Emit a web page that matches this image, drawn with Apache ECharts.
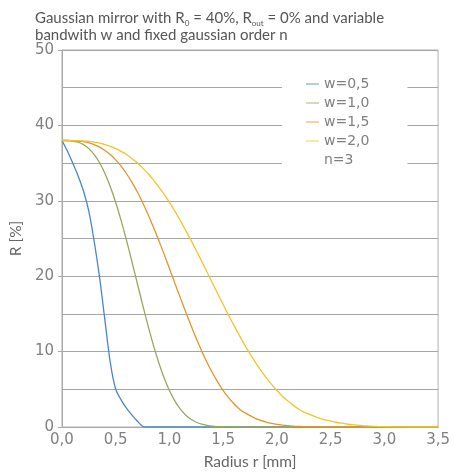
<!DOCTYPE html>
<html><head><meta charset="utf-8">
<script src="https://cdn.jsdelivr.net/npm/echarts@6/dist/echarts.min.js"></script>
<style>html,body{margin:0;padding:0;background:#fff}#c{width:453px;height:475px}</style>
</head><body><div id="c"></div>
<script>
const radius = [0,0.05,0.1,0.15,0.2,0.25,0.3,0.35,0.4,0.45,0.5,0.55,0.6,0.65,0.7,0.75,0.8,0.85,0.9,0.95,
1,1.05,1.1,1.15,1.2,1.25,1.3,1.35,1.4,1.45,1.5,1.55,1.6,1.65,1.7,1.75,1.8,1.85,1.9,1.95,
2,2.05,2.1,2.15,2.2,2.25,2.3,2.35,2.4,2.45,2.5,2.55,2.6,2.65,2.7,2.75,2.8,2.85,2.9,2.95,
3,3.05,3.1,3.15,3.2,3.25,3.3,3.35,3.4,3.45,3.5];
const w05 = [38,36.6,35.0,33.3,31.3,28.6,24.6,19.8,14.1,8.5,5.0,3.6,2.5,1.6,0.8,0.1,
0,0,0,0,0,0,0,0,0,0,0,0,0,0,0,0,0,0,0,0,0,0,0,0,0,0,0,0,0,0,0,0,0,0,0,0,0,0,0,0,0,0,0,0,0,0,0,0,0,0,0,0,0,0,0];
const w10 = [38,38,37.93,37.77,37.45,36.92,36.13,35.04,33.62,31.86,29.78,27.4,24.78,21.98,19.1,16.24,13.48,10.89,8.56,6.54,
4.84,3.47,2.4,1.6,1.03,0.63,0.37,0.21,0.11,0.06,0.03,0.01,0.01,
0,0,0,0,0,0,0,0,0,0,0,0,0,0,0,0,0,0,0,0,0,0,0,0,0,0,0,0,0,0,0,0,0,0,0,0,0,0];
const w15 = [38,38,37.98,37.93,37.84,37.68,37.45,37.12,36.68,36.13,35.43,34.59,33.62,32.47,31.2,29.78,28.21,26.54,24.78,22.93,
21.03,19.1,17.19,15.31,13.48,11.74,10.09,8.56,7.19,5.95,4.84,3.9,3.09,2.4,1.9,1.5,1.15,0.88,0.66,0.49,
0.36,0.26,0.18,0.12,0.08,0.05,0.03,0.02,0.01,
0,0,0,0,0,0,0,0,0,0,0,0,0,0,0,0,0,0,0,0,0,0];
const w20 = [38,38,37.99,37.97,37.93,37.87,37.77,37.64,37.45,37.22,36.92,36.56,36.13,35.62,35.04,34.37,33.62,32.78,31.86,30.87,
29.78,28.62,27.4,26.11,24.78,23.4,21.98,20.55,19.1,17.66,16.24,14.84,13.48,12.16,10.89,9.69,8.56,7.51,6.54,5.65,
4.84,4.12,3.47,2.9,2.4,1.97,1.7,1.4,1.15,0.95,0.78,0.63,0.5,0.4,0.31,0.24,0.18,0.13,0.09,0.06,
0.04,0.03,0.02,0.01,0,0,0,0,0,0,0];
const seriesNames = ['w=0,5','w=1,0','w=1,5','w=2,0'];
const seriesValues = [w05, w10, w15, w20];
const seriesColors = ['#4a86c5','#97a85e','#e0962e','#f0c62c'];
const xTickLabels = ['0,0','0,5','1,0','1,5','2,0','2,5','3,0','3,5'];
const yTickLabels = ['0','10','20','30','40','50'];
const extraLegendText = 'n=3';

const titleFont = 'Lato, "Open Sans", sans-serif';
const tickFont = '"DejaVu Sans", sans-serif';
const chart = echarts.init(document.getElementById('c'), null, {renderer:'canvas'});
const series = seriesNames.map((n,i)=>({
  name:n, type:'line', showSymbol:false, symbol:'none', smooth:0.3,
  data: radius.map((r,k)=>[r, seriesValues[i][k]]),
  lineStyle:{width:1.3,color:seriesColors[i]}, itemStyle:{color:seriesColors[i]},
  z: 3
}));
series.push({name:extraLegendText, type:'line', data:[], symbol:'none', lineStyle:{opacity:0}, itemStyle:{color:'transparent'}});
chart.setOption({
  animation:false,
  title:{
    text:'Gaussian mirror with R{sub|0} = 40%, R{sub|out} = 0% and variable\nbandwith w and fixed gaussian order n',
    left:30, top:5,
    textStyle:{fontFamily:titleFont, fontSize:15, fontWeight:'normal', color:'#555', lineHeight:17,
      rich:{sub:{fontSize:8, verticalAlign:'bottom', padding:[6,0,0,0], color:'#555', fontFamily:titleFont}}}
  },
  legend:{
    orient:'vertical', left:282, top:70, padding:[7,38,7,24], itemGap:5,
    itemWidth:13, itemHeight:1.2, backgroundColor:'#fff',
    textStyle:{fontFamily:tickFont, fontSize:14, color:'#808080', height:14, lineHeight:14},
    data: seriesNames.map((n,i)=>({name:n, icon:'rect', itemStyle:{color:seriesColors[i], opacity:0.7}}))
      .concat([{name:extraLegendText, icon:'none'}])
  },
  grid:{left:61, right:14, top:50, bottom:48, show:true, borderColor:'#b0b0b0', borderWidth:1},
  xAxis:{
    type:'value', min:0, max:3.5, interval:0.5,
    name:'Radius r [mm]', nameLocation:'middle', nameGap:27,
    nameTextStyle:{fontFamily:titleFont, fontSize:15.5, color:'#666'},
    axisLine:{lineStyle:{color:'#aaa'}}, axisTick:{show:false},
    splitLine:{show:false},
    axisLabel:{fontFamily:tickFont, fontSize:15, color:'#808080', margin:6,
      formatter:(v)=>xTickLabels[Math.round(v/0.5)]}
  },
  yAxis:{
    type:'value', min:0, max:50, interval:10,
    name:'R [%]', nameLocation:'middle', nameGap:32,
    nameTextStyle:{fontFamily:titleFont, fontSize:15.5, color:'#666'},
    axisLine:{show:true, lineStyle:{color:'#aaa'}},
    axisTick:{show:true, length:4, lineStyle:{color:'#aaa'}},
    minorTick:{show:false, splitNumber:2},
    splitLine:{lineStyle:{color:'#a6a6a6', width:1}},
    minorSplitLine:{show:true, lineStyle:{color:'#a6a6a6', width:1}},
    axisLabel:{fontFamily:tickFont, fontSize:15, color:'#808080', margin:8,
      formatter:(v)=>yTickLabels[Math.round(v/10)]}
  },
  series: series
});
</script></body></html>
